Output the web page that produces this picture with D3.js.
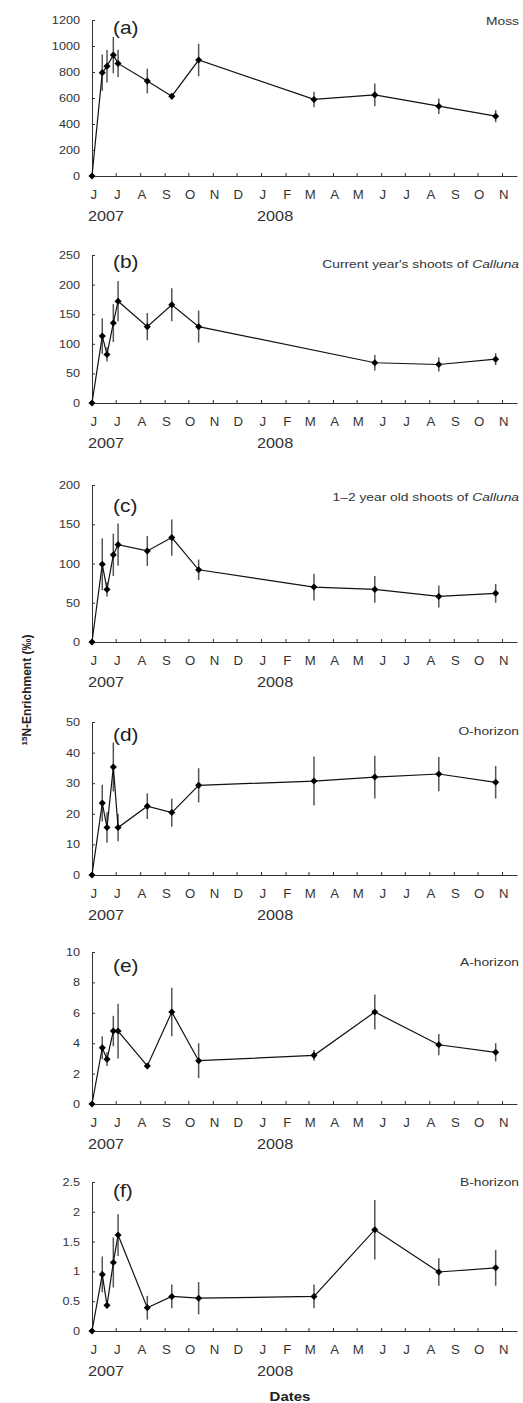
<!DOCTYPE html>
<html>
<head>
<meta charset="utf-8">
<script src="https://cdn.jsdelivr.net/npm/d3@7"></script>
<style>
body { margin: 0; background: #fff; }
svg { display: block; font-family: "Liberation Sans", Arial, Helvetica, sans-serif; }
.axis path, .axis line { stroke: #333; stroke-width: 1; }
.axis text { fill: #333; }
</style>
</head>
<body>
<svg id="chart" width="523" height="1403"></svg>
<script>
// sampling dates (shared by all panels)
var dates = ["2007-06-01", "2007-06-14", "2007-06-20", "2007-06-28", "2007-07-04", "2007-08-10",
             "2007-09-10", "2007-10-14", "2008-03-08", "2008-05-24", "2008-08-13", "2008-10-24"];
var monthLabels = ["J","J","A","S","O","N","D","J","F","M","A","M","J","J","A","S","O","N"];
var yearLabels = ["2007", "2008"];

var panelLabels = ["(a)", "(b)", "(c)", "(d)", "(e)", "(f)"];
var titles = ["Moss", "Current year's shoots of ", "1\u20132 year old shoots of ", "O-horizon", "A-horizon", "B-horizon"];
var titlesItalic = ["", "Calluna", "Calluna", "", "", ""];
var yMax = [1200, 250, 200, 50, 10, 2.5];
var yStep = [200, 50, 50, 10, 2, 0.5];

// 15N enrichment, mean and error (null = not sampled)
var moss       = [0, 795, 845, 930, 866, 730, 614, 892, 589, 624, 537, 460];
var mossErr    = [0, 140, 125, 140, 105, 95, 25, 125, 60, 88, 60, 47];
var shoots     = [0, 113, 82, 135, 172, 129, 166, 129, null, 68, 65, 74];
var shootsErr  = [0, 30, 12, 32, 34, 23, 28, 27, null, 13, 12, 10];
var oldShoots  = [0, 99, 67, 111, 124, 116, 133, 92, 70, 67, 58, 62];
var oldShootsErr = [0, 33, 9, 27, 27, 19, 23, 13, 17, 17, 14, 12];
var oHorizon   = [0, 23.5, 15.5, 35.3, 15.5, 22.5, 20.4, 29.3, 30.7, 32.0, 33.0, 30.3];
var oHorizonErr = [0, 6, 5, 8, 4.5, 4.2, 4.6, 5.6, 8, 7, 5.6, 5.3];
var aHorizon   = [0, 3.7, 2.95, 4.8, 4.8, 2.5, 6.05, 2.85, 3.2, 6.05, 3.9, 3.4];
var aHorizonErr = [0, 0.75, 0.45, 1.0, 1.8, 0, 1.6, 1.15, 0.35, 1.15, 0.7, 0.6];
var bHorizon   = [0, 0.95, 0.43, 1.15, 1.61, 0.39, 0.58, 0.55, 0.58, 1.70, 0.99, 1.06];
var bHorizonErr = [0, 0.3, 0.05, 0.42, 0.35, 0.2, 0.2, 0.27, 0.2, 0.5, 0.23, 0.3];

var series = [moss, shoots, oldShoots, oHorizon, aHorizon, bHorizon];
var errors = [mossErr, shootsErr, oldShootsErr, oHorizonErr, aHorizonErr, bHorizonErr];

// panel layout
var panelTop = [20, 255, 485, 722, 952, 1182];
var panelBottom = [176, 403, 642, 875, 1104, 1331];
var labelY = [34, 268, 512, 741, 972, 1197];
var titleY = [25, 268, 501, 735, 966, 1186];

var svg = d3.select("#chart");
var parse = d3.timeParse("%Y-%m-%d");
var x = d3.scaleTime()
        .domain([parse("2007-06-01"), parse("2008-11-20")])
        .range([92, 517]);
var monthTicks = d3.timeMonth.range(parse("2007-06-01"), parse("2008-11-02"));
var yearTicks = [parse("2007-06-01"), parse("2008-01-01")];

// the original figure's lettering is a bit wider than Arial
function stretch(sel, k) {
    sel.each(function() {
        var w = this.getComputedTextLength();
        d3.select(this).attr("textLength", w * k).attr("lengthAdjust", "spacingAndGlyphs");
    });
}

series.forEach(function(vals, p) {
    var y = d3.scaleLinear().domain([0, yMax[p]]).range([panelBottom[p], panelTop[p]]);
    var g = svg.append("g");

    var xAxis = d3.axisBottom(x)
            .tickValues(monthTicks)
            .tickSize(-3)
            .tickSizeOuter(0)
            .tickPadding(14)
            .tickFormat(function(d, i) { return monthLabels[i]; });
    var xg = g.append("g").attr("class", "axis")
            .attr("transform", "translate(0," + panelBottom[p] + ")")
            .call(xAxis);
    xg.selectAll("text").attr("font-size", 12).attr("dx", "0.1em").call(stretch, 1.1);

    var yAxis = d3.axisLeft(y)
            .tickValues(d3.range(0, yMax[p] + yStep[p] / 2, yStep[p]))
            .tickSize(-3)
            .tickSizeOuter(0)
            .tickPadding(12)
            .tickFormat(function(d) { return d3.format("~g")(d); });
    var yg = g.append("g").attr("class", "axis")
            .attr("transform", "translate(" + x.range()[0] + ",0)")
            .call(yAxis);
    yg.selectAll("text").attr("font-size", 11).call(stretch, 1.15);

    g.selectAll(".year")
        .data(yearLabels)
        .enter().append("text")
        .attr("x", function(d, i) { return x(yearTicks[i]) - 4; })
        .attr("y", panelBottom[p] + 45)
        .attr("font-size", 14.5)
        .attr("fill", "#333")
        .text(function(d) { return d; })
        .call(stretch, 1.12);

    g.append("text")
        .attr("x", 113)
        .attr("y", labelY[p])
        .attr("font-size", 19)
        .attr("fill", "#222")
        .text(panelLabels[p])
        .call(stretch, 1.1);

    var t = g.append("text")
        .attr("x", 519)
        .attr("y", titleY[p])
        .attr("text-anchor", "end")
        .attr("font-size", 11.5)
        .attr("fill", "#333");
    t.append("tspan").text(titles[p]);
    if (titlesItalic[p]) t.append("tspan").attr("font-style", "italic").text(titlesItalic[p]);
    t.call(stretch, 1.2);

    var pts = dates.map(function(d, i) {
        return {date: parse(d), v: vals[i], e: errors[p][i]};
    }).filter(function(d) { return d.v != null; });

    g.selectAll(".err")
        .data(pts.filter(function(d) { return d.e > 0; }))
        .enter().append("line")
        .attr("x1", function(d) { return x(d.date); })
        .attr("x2", function(d) { return x(d.date); })
        .attr("y1", function(d) { return y(d.v - d.e); })
        .attr("y2", function(d) { return y(d.v + d.e); })
        .attr("stroke", "#555")
        .attr("stroke-width", 1.5);

    var line = d3.line()
            .x(function(d) { return x(d.date); })
            .y(function(d) { return y(d.v); });
    g.append("path")
        .datum(pts)
        .attr("d", line)
        .attr("fill", "none")
        .attr("stroke", "#111")
        .attr("stroke-width", 1.2);

    g.selectAll(".dot")
        .data(pts)
        .enter().append("path")
        .attr("d", d3.symbol().type(d3.symbolDiamond2).size(32))
        .attr("transform", function(d) { return "translate(" + x(d.date) + "," + y(d.v) + ")"; })
        .attr("fill", "#000");
});

var yt = svg.append("text")
    .attr("transform", "translate(31,690) rotate(-90)")
    .attr("text-anchor", "middle")
    .attr("font-size", 12)
    .attr("font-weight", "bold")
    .attr("fill", "#222");
yt.append("tspan").attr("font-size", 8).attr("dy", "-0.5em").text("15");
yt.append("tspan").attr("dy", "0.35em").text("N-Enrichment (\u2030)");

svg.append("text")
    .attr("x", 290)
    .attr("y", 1401)
    .attr("text-anchor", "middle")
    .attr("font-size", 13)
    .attr("font-weight", "bold")
    .attr("fill", "#222")
    .text("Dates")
    .call(stretch, 1.15);
</script>
</body>
</html>
